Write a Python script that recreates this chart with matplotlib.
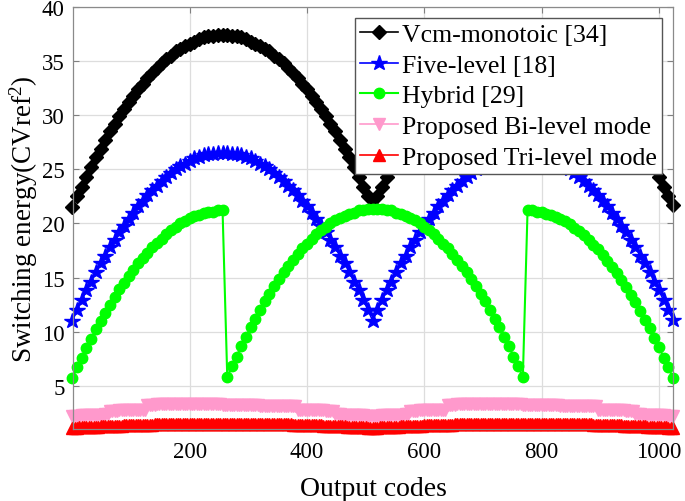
import numpy as np
import matplotlib
matplotlib.use("Agg")
import matplotlib.pyplot as plt

plt.rcParams['font.family'] = ['Liberation Serif', 'DejaVu Serif']
plt.rcParams['mathtext.fontset'] = 'custom'
plt.rcParams['mathtext.rm'] = 'Liberation Serif'
plt.rcParams['mathtext.it'] = 'Liberation Serif:italic'

# Output codes (every 8th code for the reference schemes, every 4th for the proposed modes)
codes = list(range(0, 1025, 8))
codes_fine = list(range(0, 1025, 4))

vcm_monotonic = [
    21.5, 22.5, 23.4, 24.3, 25.2, 26.1, 26.9, 27.7, 28.5, 29.2, 29.9, 30.6, 31.2, 31.8, 32.4, 32.9, 33.4, 33.9, 34.4, 34.8, 35.2, 35.5, 35.9, 36.1, 36.4, 36.6, 36.8, 37.0, 37.2, 37.3, 37.3, 37.4, 37.4,
    37.4, 37.3, 37.3, 37.2, 37.0, 36.8, 36.6, 36.4, 36.1, 35.9, 35.5, 35.2, 34.8, 34.4, 33.9, 33.4, 32.9, 32.4, 31.8, 31.2, 30.6, 29.9, 29.2, 28.5, 27.7, 26.9, 26.1, 25.2, 24.3, 23.4, 22.5, 21.6,
    22.5, 23.4, 24.3, 25.2, 26.1, 26.9, 27.7, 28.5, 29.2, 29.9, 30.6, 31.2, 31.8, 32.4, 32.9, 33.4, 33.9, 34.4, 34.8, 35.2, 35.5, 35.9, 36.1, 36.4, 36.6, 36.8, 37.0, 37.2, 37.3, 37.3, 37.4, 37.4,
    37.4, 37.3, 37.3, 37.2, 37.0, 36.8, 36.6, 36.4, 36.1, 35.9, 35.5, 35.2, 34.8, 34.4, 33.9, 33.4, 32.9, 32.4, 31.8, 31.2, 30.6, 29.9, 29.2, 28.5, 27.7, 26.9, 26.1, 25.2, 24.3, 23.4, 22.5, 21.7,
]

five_level = [
    11.0, 12.0, 12.9, 13.8, 14.6, 15.5, 16.3, 17.0, 17.8, 18.5, 19.2, 19.8, 20.4, 21.0, 21.6, 22.1, 22.6, 23.1, 23.5, 23.9, 24.3, 24.7, 25.0, 25.3, 25.5, 25.8, 26.0, 26.1, 26.3, 26.4, 26.4, 26.5, 26.5,
    26.5, 26.4, 26.4, 26.3, 26.1, 26.0, 25.8, 25.5, 25.3, 25.0, 24.7, 24.3, 23.9, 23.5, 23.1, 22.6, 22.1, 21.6, 21.0, 20.4, 19.8, 19.2, 18.5, 17.8, 17.0, 16.3, 15.5, 14.6, 13.8, 12.9, 12.0, 11.0,
    12.0, 12.9, 13.8, 14.6, 15.5, 16.3, 17.0, 17.8, 18.5, 19.2, 19.8, 20.4, 21.0, 21.6, 22.1, 22.6, 23.1, 23.5, 23.9, 24.3, 24.7, 25.0, 25.3, 25.5, 25.8, 26.0, 26.1, 26.3, 26.4, 26.4, 26.5, 26.5,
    26.5, 26.4, 26.4, 26.3, 26.1, 26.0, 25.8, 25.5, 25.3, 25.0, 24.7, 24.3, 23.9, 23.5, 23.1, 22.6, 22.1, 21.6, 21.0, 20.4, 19.8, 19.2, 18.5, 17.8, 17.0, 16.3, 15.5, 14.6, 13.8, 12.9, 12.0, 11.1,
]

hybrid = [
    5.7, 6.7, 7.6, 8.5, 9.3, 10.2, 11.0, 11.7, 12.5, 13.2, 13.9, 14.5, 15.1, 15.7, 16.3, 16.8, 17.3, 17.8, 18.2, 18.6, 19.0, 19.4, 19.7, 20.0, 20.2, 20.5, 20.7, 20.8, 21.0, 21.1, 21.1, 21.2, 21.2,
    5.8, 6.8, 7.7, 8.7, 9.5, 10.4, 11.2, 12.0, 12.8, 13.5, 14.2, 14.9, 15.5, 16.1, 16.6, 17.2, 17.7, 18.1, 18.6, 19.0, 19.4, 19.7, 20.0, 20.3, 20.5, 20.7, 20.9, 21.0, 21.2, 21.2, 21.3, 21.3,
    21.3, 21.3, 21.2, 21.2, 21.0, 20.9, 20.7, 20.5, 20.3, 20.0, 19.7, 19.4, 19.0, 18.6, 18.1, 17.7, 17.2, 16.6, 16.1, 15.5, 14.9, 14.2, 13.5, 12.8, 12.0, 11.2, 10.4, 9.5, 8.7, 7.7, 6.8, 5.8,
    21.2, 21.2, 21.1, 21.1, 20.9, 20.8, 20.6, 20.4, 20.2, 19.9, 19.6, 19.3, 18.9, 18.5, 18.0, 17.6, 17.1, 16.5, 16.0, 15.4, 14.8, 14.1, 13.4, 12.7, 11.9, 11.1, 10.3, 9.4, 8.6, 7.6, 6.7, 5.7,
]

bi_level = [
    2.2, 2.2, 2.2, 2.2, 2.25, 2.25, 2.25, 2.25, 2.3, 2.3, 2.3, 2.3, 2.3, 2.3, 2.35, 2.35,
    2.7, 2.7, 2.7, 2.7, 2.75, 2.75, 2.75, 2.75, 2.75, 2.75, 2.8, 2.8, 2.8, 2.8, 2.8, 2.8,
    3.25, 3.25, 3.25, 3.25, 3.3, 3.3, 3.3, 3.3, 3.3, 3.3, 3.3, 3.3, 3.3, 3.3, 3.3, 3.3,
    3.3, 3.3, 3.3, 3.3, 3.3, 3.3, 3.3, 3.3, 3.3, 3.3, 3.3, 3.3, 3.3, 3.3, 3.3, 3.3,
    3.25, 3.25, 3.25, 3.25, 3.25, 3.25, 3.25, 3.25, 3.2, 3.2, 3.2, 3.2, 3.2, 3.2, 3.2, 3.2,
    3.15, 3.15, 3.15, 3.15, 3.15, 3.15, 3.1, 3.1, 3.1, 3.1, 3.1, 3.1, 3.1, 3.1, 3.1, 3.1,
    2.8, 2.8, 2.8, 2.8, 2.8, 2.8, 2.75, 2.75, 2.75, 2.75, 2.75, 2.75, 2.7, 2.7, 2.7, 2.7,
    2.35, 2.35, 2.35, 2.3, 2.3, 2.3, 2.3, 2.3, 2.3, 2.25, 2.25, 2.25, 2.25, 2.2, 2.2, 2.2,
    2.2, 2.2, 2.2, 2.2, 2.25, 2.25, 2.25, 2.25, 2.3, 2.3, 2.3, 2.3, 2.3, 2.3, 2.35, 2.35,
    2.7, 2.7, 2.7, 2.7, 2.75, 2.75, 2.75, 2.75, 2.75, 2.75, 2.8, 2.8, 2.8, 2.8, 2.8, 2.8,
    3.25, 3.25, 3.25, 3.25, 3.3, 3.3, 3.3, 3.3, 3.3, 3.3, 3.3, 3.3, 3.3, 3.3, 3.3, 3.3,
    3.3, 3.3, 3.3, 3.3, 3.3, 3.3, 3.3, 3.3, 3.3, 3.3, 3.3, 3.3, 3.3, 3.3, 3.3, 3.3,
    3.25, 3.25, 3.25, 3.25, 3.25, 3.25, 3.25, 3.25, 3.2, 3.2, 3.2, 3.2, 3.2, 3.2, 3.2, 3.2,
    3.15, 3.15, 3.15, 3.15, 3.15, 3.15, 3.1, 3.1, 3.1, 3.1, 3.1, 3.1, 3.1, 3.1, 3.1, 3.1,
    2.8, 2.8, 2.8, 2.8, 2.8, 2.8, 2.75, 2.75, 2.75, 2.75, 2.75, 2.75, 2.7, 2.7, 2.7, 2.7,
    2.35, 2.35, 2.35, 2.3, 2.3, 2.3, 2.3, 2.3, 2.3, 2.25, 2.25, 2.25, 2.25, 2.2, 2.2, 2.2,
    2.2,
]

tri_level = [
    1.11, 1.12, 1.13, 1.15, 1.16, 1.17, 1.18, 1.19, 1.20, 1.21, 1.22, 1.23, 1.24, 1.25, 1.26, 1.27,
    1.28, 1.29, 1.30, 1.31, 1.32, 1.32, 1.33, 1.34, 1.35, 1.36, 1.36, 1.37, 1.38, 1.38, 1.39, 1.40,
    1.40, 1.41, 1.41, 1.42, 1.43, 1.43, 1.44, 1.44, 1.45, 1.45, 1.45, 1.46, 1.46, 1.47, 1.47, 1.47,
    1.48, 1.48, 1.48, 1.48, 1.49, 1.49, 1.49, 1.49, 1.49, 1.50, 1.50, 1.50, 1.50, 1.50, 1.50, 1.50, 1.50,
    1.50, 1.50, 1.50, 1.50, 1.50, 1.50, 1.50, 1.49, 1.49, 1.49, 1.49, 1.49, 1.48, 1.48, 1.48, 1.48,
    1.47, 1.47, 1.47, 1.46, 1.46, 1.45, 1.45, 1.45, 1.44, 1.44, 1.43, 1.43, 1.42, 1.41, 1.41, 1.40,
    1.40, 1.39, 1.38, 1.38, 1.37, 1.36, 1.36, 1.35, 1.34, 1.33, 1.32, 1.32, 1.31, 1.30, 1.29, 1.28,
    1.27, 1.26, 1.25, 1.24, 1.23, 1.22, 1.21, 1.20, 1.19, 1.18, 1.17, 1.16, 1.15, 1.13, 1.12, 1.11,
    1.12, 1.13, 1.15, 1.16, 1.17, 1.18, 1.19, 1.20, 1.21, 1.22, 1.23, 1.24, 1.25, 1.26, 1.27,
    1.28, 1.29, 1.30, 1.31, 1.32, 1.32, 1.33, 1.34, 1.35, 1.36, 1.36, 1.37, 1.38, 1.38, 1.39, 1.40,
    1.40, 1.41, 1.41, 1.42, 1.43, 1.43, 1.44, 1.44, 1.45, 1.45, 1.45, 1.46, 1.46, 1.47, 1.47, 1.47,
    1.48, 1.48, 1.48, 1.48, 1.49, 1.49, 1.49, 1.49, 1.49, 1.50, 1.50, 1.50, 1.50, 1.50, 1.50, 1.50, 1.50,
    1.50, 1.50, 1.50, 1.50, 1.50, 1.50, 1.50, 1.49, 1.49, 1.49, 1.49, 1.49, 1.48, 1.48, 1.48, 1.48,
    1.47, 1.47, 1.47, 1.46, 1.46, 1.45, 1.45, 1.45, 1.44, 1.44, 1.43, 1.43, 1.42, 1.41, 1.41, 1.40,
    1.40, 1.39, 1.38, 1.38, 1.37, 1.36, 1.36, 1.35, 1.34, 1.33, 1.32, 1.32, 1.31, 1.30, 1.29, 1.28,
    1.27, 1.26, 1.25, 1.24, 1.23, 1.22, 1.21, 1.20, 1.19, 1.18, 1.17, 1.16, 1.15, 1.13, 1.12, 1.11,
]

labels = ["Vcm-monotoic [34]", "Five-level [18]", "Hybrid [29]",
          "Proposed Bi-level mode", "Proposed Tri-level mode"]
xticks = [200, 400, 600, 800, 1000]
yticks = [5, 10, 15, 20, 25, 30, 35, 40]

fig = plt.figure(figsize=(6.85, 5.02), dpi=100)
ax = fig.add_axes([73/685, 72/502, 600/685, 422/502])

ax.plot(codes, vcm_monotonic, '-', color='black', marker='D', ms=7, lw=1.2, label=labels[0], clip_on=False)
ax.plot(codes, five_level, '-', color='#0000ff', marker='*', ms=11.5, lw=1.2, label=labels[1], clip_on=False)
ax.plot(codes, hybrid, '-', color='#00ff00', marker='o', ms=7.5, lw=1.5, label=labels[2], clip_on=False)
ax.plot(codes_fine, bi_level, '-', color='#ff99cc', marker='v', ms=9, lw=1.2, label=labels[3], clip_on=False)
ax.plot(codes_fine, tri_level, '-', color='#ff0000', marker='^', ms=9, lw=1.2, label=labels[4], clip_on=False)

ax.set_xlim(1, 1024)
ax.set_ylim(1, 40)
ax.set_xticks(xticks)
ax.set_yticks(yticks)
ax.tick_params(direction='in', top=True, right=True, labelsize=16.5, length=4, color='#808080')
ax.tick_params(axis='x', pad=9)
ax.tick_params(axis='y', pad=6)
ax.grid(True, color='#dddddd', lw=0.9)
ax.set_axisbelow(True)
for s in ax.spines.values():
    s.set_color('#8a8a8a')
    s.set_linewidth(0.9)

ax.set_xlabel('Output codes', fontsize=20, labelpad=10)
ax.set_ylabel('Switching energy(CVref$^2$)', fontsize=19.5, labelpad=1)

leg = ax.legend(loc='upper right', bbox_to_anchor=(0.982, 0.974), borderaxespad=0,
                fontsize=18.5, labelspacing=0.3, handlelength=1.5, handletextpad=0.15,
                borderpad=0.2, fancybox=False, framealpha=1, edgecolor='#555555')
leg.get_frame().set_linewidth(1.0)

fig.savefig('out.png', dpi=100)
